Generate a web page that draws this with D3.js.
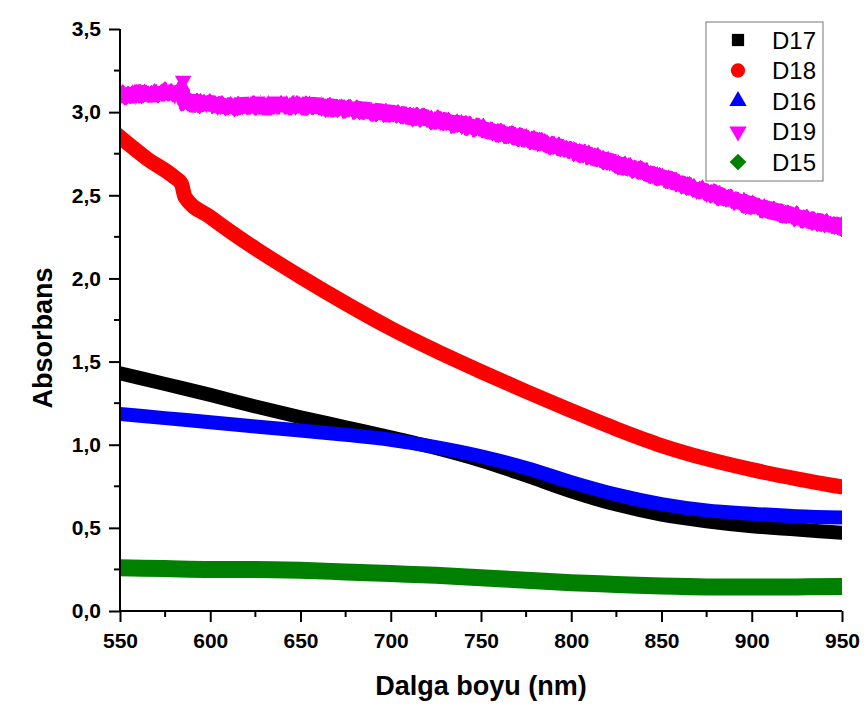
<!DOCTYPE html>
<html>
<head>
<meta charset="utf-8">
<script src="https://d3js.org/d3.v7.min.js"></script>
<style>
  body { margin: 0; background: #fff; }
  svg { display: block; font-family: Arial, "Liberation Sans", sans-serif; }
</style>
</head>
<body>
<svg id="chart" width="867" height="710"></svg>
<script>
// values, [wavelength nm, absorbance]
const d17 = [[550, 1.43], [575, 1.365], [600, 1.30], [625, 1.23], [650, 1.165], [675, 1.105],
  [700, 1.045], [725, 0.98], [750, 0.905], [775, 0.815], [800, 0.72], [825, 0.64], [850, 0.58],
  [875, 0.54], [900, 0.51], [925, 0.49], [950, 0.47]];
const d18 = [[550, 2.85], [565, 2.72], [580, 2.61], [584, 2.57], [586, 2.49], [600, 2.37],
  [625, 2.18], [650, 2.01], [675, 1.85], [700, 1.70], [725, 1.565], [750, 1.44], [775, 1.32],
  [800, 1.205], [825, 1.095], [850, 0.995], [875, 0.915], [900, 0.85], [925, 0.795], [950, 0.746]];
const d16 = [[550, 1.185], [575, 1.16], [600, 1.135], [625, 1.11], [650, 1.085], [675, 1.06],
  [700, 1.03], [725, 0.985], [750, 0.93], [775, 0.86], [800, 0.775], [825, 0.70], [850, 0.643],
  [875, 0.605], [900, 0.585], [925, 0.57], [950, 0.562]];
const d19 = [[550, 3.10], [565, 3.11], [580, 3.12], [584, 3.12], [586, 3.06], [600, 3.05],
  [610, 3.035], [625, 3.04], [650, 3.04], [675, 3.02], [700, 2.99], [725, 2.955], [750, 2.90],
  [775, 2.84], [800, 2.77], [825, 2.69], [850, 2.61], [875, 2.52], [900, 2.44], [925, 2.37],
  [950, 2.31]];
const d19Spike = [[585, 3.19]];
const d15 = [[550, 0.26], [575, 0.255], [600, 0.25], [625, 0.25], [650, 0.245], [675, 0.235],
  [700, 0.225], [725, 0.215], [750, 0.20], [775, 0.185], [800, 0.17], [825, 0.16], [850, 0.15],
  [875, 0.145], [900, 0.145], [925, 0.145], [950, 0.147]];

const seriesNames = ['D17', 'D18', 'D16', 'D19', 'D15'];
const seriesColors = ['#000000', '#ff0000', '#0000ff', '#ff00ff', '#008000'];
const xTicks = [550, 600, 650, 700, 750, 800, 850, 900, 950];
const yTicks = [0, 0.5, 1, 1.5, 2, 2.5, 3, 3.5];

const svg = d3.select('#chart');
const plotLeft = 120, plotRight = 842, plotTop = 29, plotBottom = 611;

const x = d3.scaleLinear().domain([550, 950]).range([plotLeft, plotRight]);
const y = d3.scaleLinear().domain([0, 3.5]).range([plotBottom, plotTop]);
const fmt = (v) => d3.format('.1f')(v).replace('.', ',');

const defs = svg.append('defs');
defs.append('clipPath')
  .attr('id', 'plot-clip')
  .append('rect')
  .attr('x', plotLeft)
  .attr('y', 0)
  .attr('width', plotRight - plotLeft)
  .attr('height', 710);

// jagged edge for the noisy D19 trace
const rough = defs.append('filter')
  .attr('id', 'rough')
  .attr('x', '-2%').attr('y', '-20%')
  .attr('width', '104%').attr('height', '140%');
rough.append('feTurbulence')
  .attr('type', 'fractalNoise')
  .attr('baseFrequency', '0.25 0.02')
  .attr('numOctaves', 2)
  .attr('seed', 3)
  .attr('result', 'noise');
rough.append('feDisplacementMap')
  .attr('in', 'SourceGraphic')
  .attr('in2', 'noise')
  .attr('scale', 6)
  .attr('xChannelSelector', 'R')
  .attr('yChannelSelector', 'G');

// data bands (dense markers look like thick lines)
const line = d3.line()
  .x((d) => x(d[0]))
  .y((d) => y(d[1]))
  .curve(d3.curveMonotoneX);

const bands = [
  { data: d17, width: 14 },
  { data: d18, width: 15 },
  { data: d16, width: 14 },
  { data: d19, width: 18, noisy: true },
  { data: d15, width: 17 },
];

const plot = svg.append('g').attr('clip-path', 'url(#plot-clip)');
plot.selectAll('g.band')
  .data(bands)
  .join('g')
  .attr('class', 'band')
  .attr('filter', (b) => (b.noisy ? 'url(#rough)' : null))
  .append('path')
  .attr('d', (b) => line(b.data))
  .attr('fill', 'none')
  .attr('stroke', (b) => seriesColors[bands.indexOf(b)])
  .attr('stroke-width', (b) => b.width)
  .attr('stroke-linecap', 'square')
  .attr('stroke-linejoin', 'round');

// lone outlier point on D19
svg.selectAll('path.spike')
  .data(d19Spike)
  .join('path')
  .attr('class', 'spike')
  .attr('transform', (d) => `translate(${x(d[0])},${y(d[1])}) rotate(180)`)
  .attr('d', d3.symbol(d3.symbolTriangle, 120))
  .attr('fill', seriesColors[3]);

// axes
const xAxis = svg.append('g')
  .attr('transform', `translate(0,${plotBottom})`)
  .call(d3.axisBottom(x).tickValues(xTicks).tickSize(11).tickPadding(11).tickFormat(d3.format('d')));
xAxis.append('g')
  .call((g) => g.selectAll('line')
    .data(d3.range(575, 950, 50))
    .join('line')
    .attr('x1', (d) => x(d))
    .attr('x2', (d) => x(d))
    .attr('y1', 0)
    .attr('y2', 6)
    .attr('stroke', '#000')
    .attr('stroke-width', 2));

const yAxis = svg.append('g')
  .attr('transform', `translate(${plotLeft},0)`)
  .call(d3.axisLeft(y).tickValues(yTicks).tickSize(11).tickPadding(8).tickFormat(fmt));
yAxis.append('g')
  .call((g) => g.selectAll('line')
    .data(d3.range(0.25, 3.5, 0.5))
    .join('line')
    .attr('x1', 0)
    .attr('x2', -6)
    .attr('y1', (d) => y(d))
    .attr('y2', (d) => y(d))
    .attr('stroke', '#000')
    .attr('stroke-width', 2));

[xAxis, yAxis].forEach((a) => {
  a.select('.domain').attr('stroke-width', 2);
  a.selectAll('.tick line').attr('stroke-width', 2);
  a.selectAll('.tick text')
    .attr('font-size', 21)
    .attr('font-weight', 'bold')
    .attr('fill', '#000');
});
xAxis.select('.domain').attr('d', `M${plotLeft},0H${plotRight}`);
yAxis.select('.domain').attr('d', `M0,${plotTop}V${plotBottom}`);

// axis titles
svg.append('text')
  .attr('x', (plotLeft + plotRight) / 2)
  .attr('y', 695)
  .attr('text-anchor', 'middle')
  .attr('font-size', 27)
  .attr('font-weight', 'bold')
  .text('Dalga boyu (nm)');

svg.append('text')
  .attr('transform', 'translate(52,338) rotate(-90)')
  .attr('text-anchor', 'middle')
  .attr('font-size', 27)
  .attr('font-weight', 'bold')
  .text('Absorbans');

// legend
const legend = svg.append('g').attr('transform', 'translate(706,22)');
legend.append('rect')
  .attr('width', 117)
  .attr('height', 159)
  .attr('fill', '#fff')
  .attr('stroke', '#777')
  .attr('stroke-width', 1);

const legendSymbols = [
  { type: d3.symbolSquare, size: 150, rot: 0 },
  { type: d3.symbolCircle, size: 160, rot: 0 },
  { type: d3.symbolTriangle, size: 130, rot: 0 },
  { type: d3.symbolTriangle, size: 130, rot: 180 },
  { type: d3.symbolSquare, size: 140, rot: 45 },
];

const rows = legend.selectAll('g.row')
  .data(seriesNames)
  .join('g')
  .attr('class', 'row')
  .attr('transform', (d, i) => `translate(0,${18 + i * 30.5})`);

rows.append('path')
  .attr('transform', (d, i) => `translate(32,0) rotate(${legendSymbols[i].rot})`)
  .attr('d', (d, i) => d3.symbol(legendSymbols[i].type, legendSymbols[i].size)())
  .attr('fill', (d, i) => seriesColors[i]);

rows.append('text')
  .attr('x', 66)
  .attr('dy', '0.36em')
  .attr('font-size', 24)
  .attr('fill', '#000')
  .text((d) => d);
</script>
</body>
</html>
